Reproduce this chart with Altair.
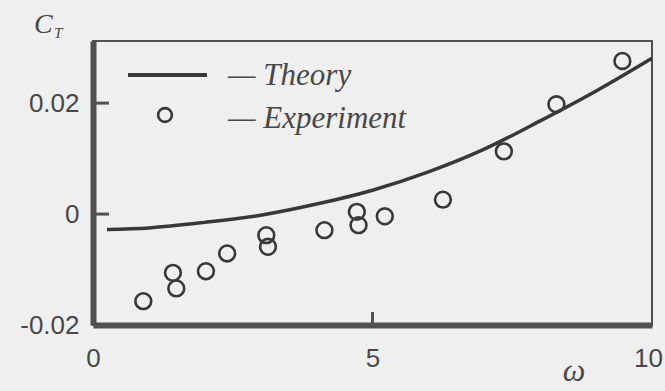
import altair as alt
import pandas as pd

# Theoretical thrust coefficient curve
theory_w = [0.25, 1.0, 2.0, 3.0, 4.0, 5.0, 6.0, 7.0, 8.0, 9.0, 10.0]
theory_ct = [-0.0028, -0.0025, -0.0015, -0.0002, 0.0018, 0.0043, 0.0076, 0.0117, 0.0168, 0.0222, 0.0281]

# Measured thrust coefficients
exp_w = [0.90, 1.43, 1.49, 2.02, 2.40, 3.10, 3.13, 4.14, 4.72, 4.75, 5.22, 6.26, 7.35, 8.29, 9.47]
exp_ct = [-0.0157, -0.0106, -0.0134, -0.0103, -0.0071, -0.0038, -0.0059, -0.0029,
          0.0004, -0.0020, -0.0004, 0.0026, 0.0113, 0.0198, 0.0276]

# Axis ticks
x_ticks = [0, 5, 10]
y_ticks = [-0.02, 0, 0.02]
inner_x_ticks = [5]
inner_y_ticks = [0, 0.02]

legend_labels = ["\u2014 Theory", "\u2014 Experiment"]

INK = "#383838"
FRAME = "#505050"
TEXT = "#484848"
BG = "#efefef"

W, H = 559, 284

theory = pd.DataFrame({"w": theory_w, "ct": theory_ct})
exp = pd.DataFrame({"w": exp_w, "ct": exp_ct})

xs = alt.Scale(domain=[0, 10], nice=False, zero=False)
ys = alt.Scale(domain=[-0.02, 0.0312], nice=False, zero=False)

x_axis = alt.Axis(values=x_ticks, title=None, grid=False, ticks=False,
                  domainWidth=6, domainColor=FRAME, labelPadding=20,
                  labelFont="Liberation Sans", labelFontSize=26, labelColor=TEXT,
                  labelFlush=False, labelOverlap=False,
                  labelOffset={"condition": {"test": "datum.value == 10", "value": -4}, "value": 0})
y_axis = alt.Axis(values=y_ticks, title=None, grid=False, ticks=False,
                  domainWidth=6, domainColor=FRAME, labelPadding=14,
                  labelFont="Liberation Sans", labelFontSize=26, labelColor=TEXT,
                  labelFlush=False, labelOverlap=False,
                  labelExpr="datum.value == 0 ? '0' : (datum.value < 0 ? '-' : '') + format(abs(datum.value), '.2f')")

curve = alt.Chart(theory).mark_line(interpolate="monotone", color=INK, strokeWidth=3.5).encode(
    x=alt.X("w:Q", scale=xs, axis=x_axis),
    y=alt.Y("ct:Q", scale=ys, axis=y_axis),
)

points = alt.Chart(exp).mark_point(shape="circle", filled=False, size=250, strokeWidth=2.6,
                                   color=INK, opacity=1).encode(
    x=alt.X("w:Q", scale=xs),
    y=alt.Y("ct:Q", scale=ys),
)

# Inward tick marks
y_tick_rules = alt.Chart(pd.DataFrame({"ct": inner_y_ticks})).mark_rule(color=FRAME, strokeWidth=3).encode(
    y=alt.Y("ct:Q", scale=ys),
    x=alt.value(0),
    x2=alt.value(16),
)
x_tick_rules = alt.Chart(pd.DataFrame({"w": inner_x_ticks})).mark_rule(color=FRAME, strokeWidth=3).encode(
    x=alt.X("w:Q", scale=xs),
    y=alt.value(H),
    y2=alt.value(H - 13),
)

# Legend
one = alt.Data(values=[{}])
leg_line = alt.Chart(one).mark_rule(color=INK, strokeWidth=4).encode(
    x=alt.value(35), x2=alt.value(114), y=alt.value(34)
)
leg_point = alt.Chart(one).mark_point(shape="circle", filled=False, size=190, strokeWidth=2.6,
                                      color=INK, opacity=1).encode(
    x=alt.value(72), y=alt.value(74)
)
leg_df = pd.DataFrame({"label": legend_labels, "ypos": [44, 87]})
leg_text = alt.Chart(leg_df).mark_text(align="left", baseline="alphabetic", font="Liberation Serif",
                                       fontStyle="italic", fontSize=31, color=TEXT).encode(
    x=alt.value(135), y=alt.Y("ypos:Q", scale=None), text="label:N"
)

# Axis titles
ct_c = alt.Chart(one).mark_text(align="left", baseline="alphabetic", font="Liberation Serif",
                                fontStyle="italic", fontSize=28, color=TEXT, text="C").encode(
    x=alt.value(-59), y=alt.value(-8)
)
ct_t = alt.Chart(one).mark_text(align="left", baseline="alphabetic", font="Liberation Serif",
                                fontStyle="italic", fontSize=15, color=TEXT, text="T").encode(
    x=alt.value(-39), y=alt.value(-3)
)
omega = alt.Chart(one).mark_text(align="center", baseline="alphabetic", font="Liberation Serif",
                                 fontStyle="italic", fontSize=32, color=TEXT, text="\u03c9").encode(
    x=alt.value(481), y=alt.value(340)
)

chart = alt.layer(
    curve, points, y_tick_rules, x_tick_rules, leg_line, leg_point, leg_text, ct_c, ct_t, omega
).properties(
    width=W, height=H,
    autosize=alt.AutoSizeParams(type="none"),
    padding={"left": 93, "top": 41, "right": 13, "bottom": 66},
    background=BG,
).configure_view(
    stroke=FRAME, strokeWidth=2, fill=BG
)

chart.save("out.html", embed_options={"renderer": "svg", "actions": False})
